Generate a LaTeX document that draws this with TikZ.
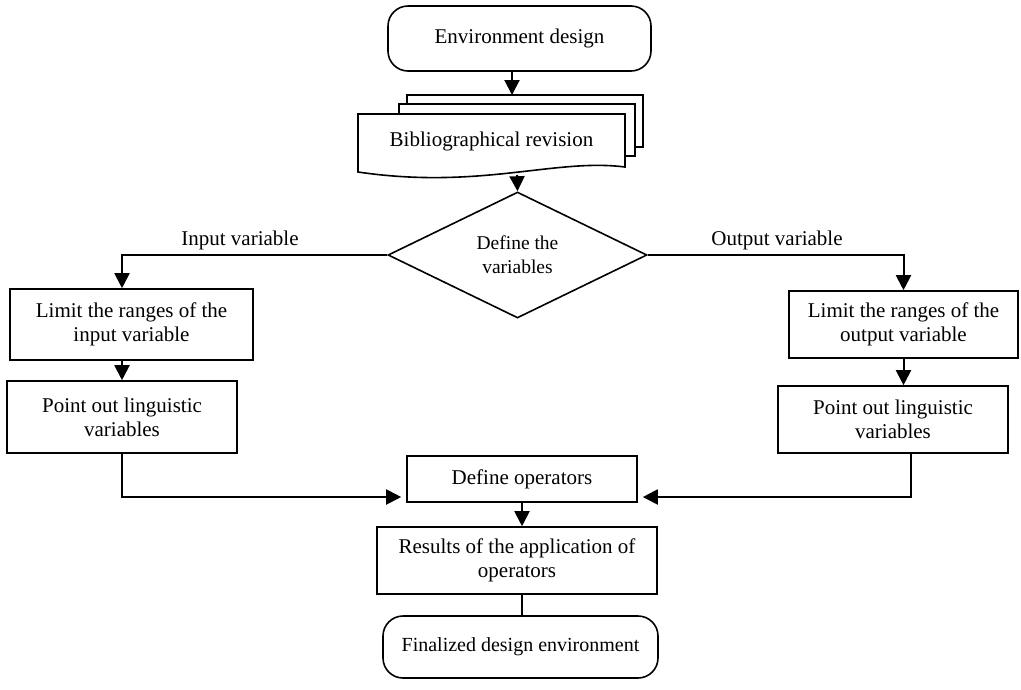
\documentclass[tikz,border=0pt]{standalone}
\usepackage{fontspec}
\setmainfont{Liberation Serif}
\usetikzlibrary{arrows.meta,shapes.geometric,calc}
\tikzset{
  box/.style={draw, line width=1.6pt, inner sep=0pt, align=center, font=\fontsize{21}{24}\selectfont},
  term/.style={box, rounded corners=20pt},
  conn/.style={line width=2pt},
  arr/.style={conn, -{Triangle[length=15pt,width=15pt]}},
  lbl/.style={font=\fontsize{21}{24}\selectfont, inner sep=0pt},
}
\begin{document}
\begin{tikzpicture}[x=1pt,y=-1pt]
\useasboundingbox (0,0) rectangle (1021,689);
% terminals and boxes
\node[term, minimum width=263pt, minimum height=65pt] (env) at (519.5,38.5) {Environment design};
% multi-document
\draw[line width=1.6pt, fill=white] (407,95) rectangle (643,147);
\draw[line width=1.6pt, fill=white] (399,104) rectangle (635,156);
\draw[line width=1.6pt, fill=white] (358,114) -- (625,114) -- (625,167) .. controls (555,158) and (480,190) .. (358,172) -- cycle;
\node[lbl, minimum width=267pt, minimum height=52pt] (bib) at (491.5,141) {Bibliographical revision};
\coordinate (bibtop) at (512,95);
\coordinate (bibbot) at (517,175);
\node[box, diamond, minimum width=259pt, minimum height=126pt, font=\fontsize{19.5}{24}\selectfont] (dv) at (517.5,255) {Define the\\variables};
\node[box, minimum width=243pt, minimum height=71pt] (lin) at (131.5,324.5) {Limit the ranges of the\\input variable};
\node[box, minimum width=230pt, minimum height=72pt] (pin) at (122,417) {Point out linguistic\\variables};
\node[box, minimum width=229pt, minimum height=67pt] (lout) at (903.5,324.5) {Limit the ranges of the\\output variable};
\node[box, minimum width=230pt, minimum height=67pt] (pout) at (893,419.5) {Point out linguistic\\variables};
\node[box, minimum width=230pt, minimum height=46pt] (ops) at (522,479) {Define operators};
\node[box, minimum width=280pt, minimum height=67pt] (res) at (517,560.5) {Results of the application of\\operators};
\node[term, minimum width=275pt, minimum height=62pt, font=\fontsize{20}{24}\selectfont] (fin) at (520.5,647) {Finalized design environment};
% labels
\node[lbl] (lblin) at (240,240) {Input variable};
\node[lbl] (lblout) at (777,240) {Output variable};
% connectors
\draw[arr] (env.south -| bibtop) -- (bibtop);
\draw[arr] (bibbot) -- (dv.north);
\draw[arr] (dv.west) -| (pin.north |- lin.north);
\draw[arr] (pin.north |- lin.south) -- (pin.north);
\draw[arr] (pin.south) |- ($(ops.west)+(-5,18)$);
\draw[arr] (dv.east) -| (lout.north);
\draw[arr] (lout.south) -- (lout.south |- pout.north);
\draw[arr] ($(pout.south)+(18,0)$) |- ($(ops.east)+(5,18)$);
\draw[arr] (ops.south) -- (ops.south |- res.north);
\draw[conn] (ops.south |- res.south) -- (ops.south |- fin.north);
\end{tikzpicture}
\end{document}
